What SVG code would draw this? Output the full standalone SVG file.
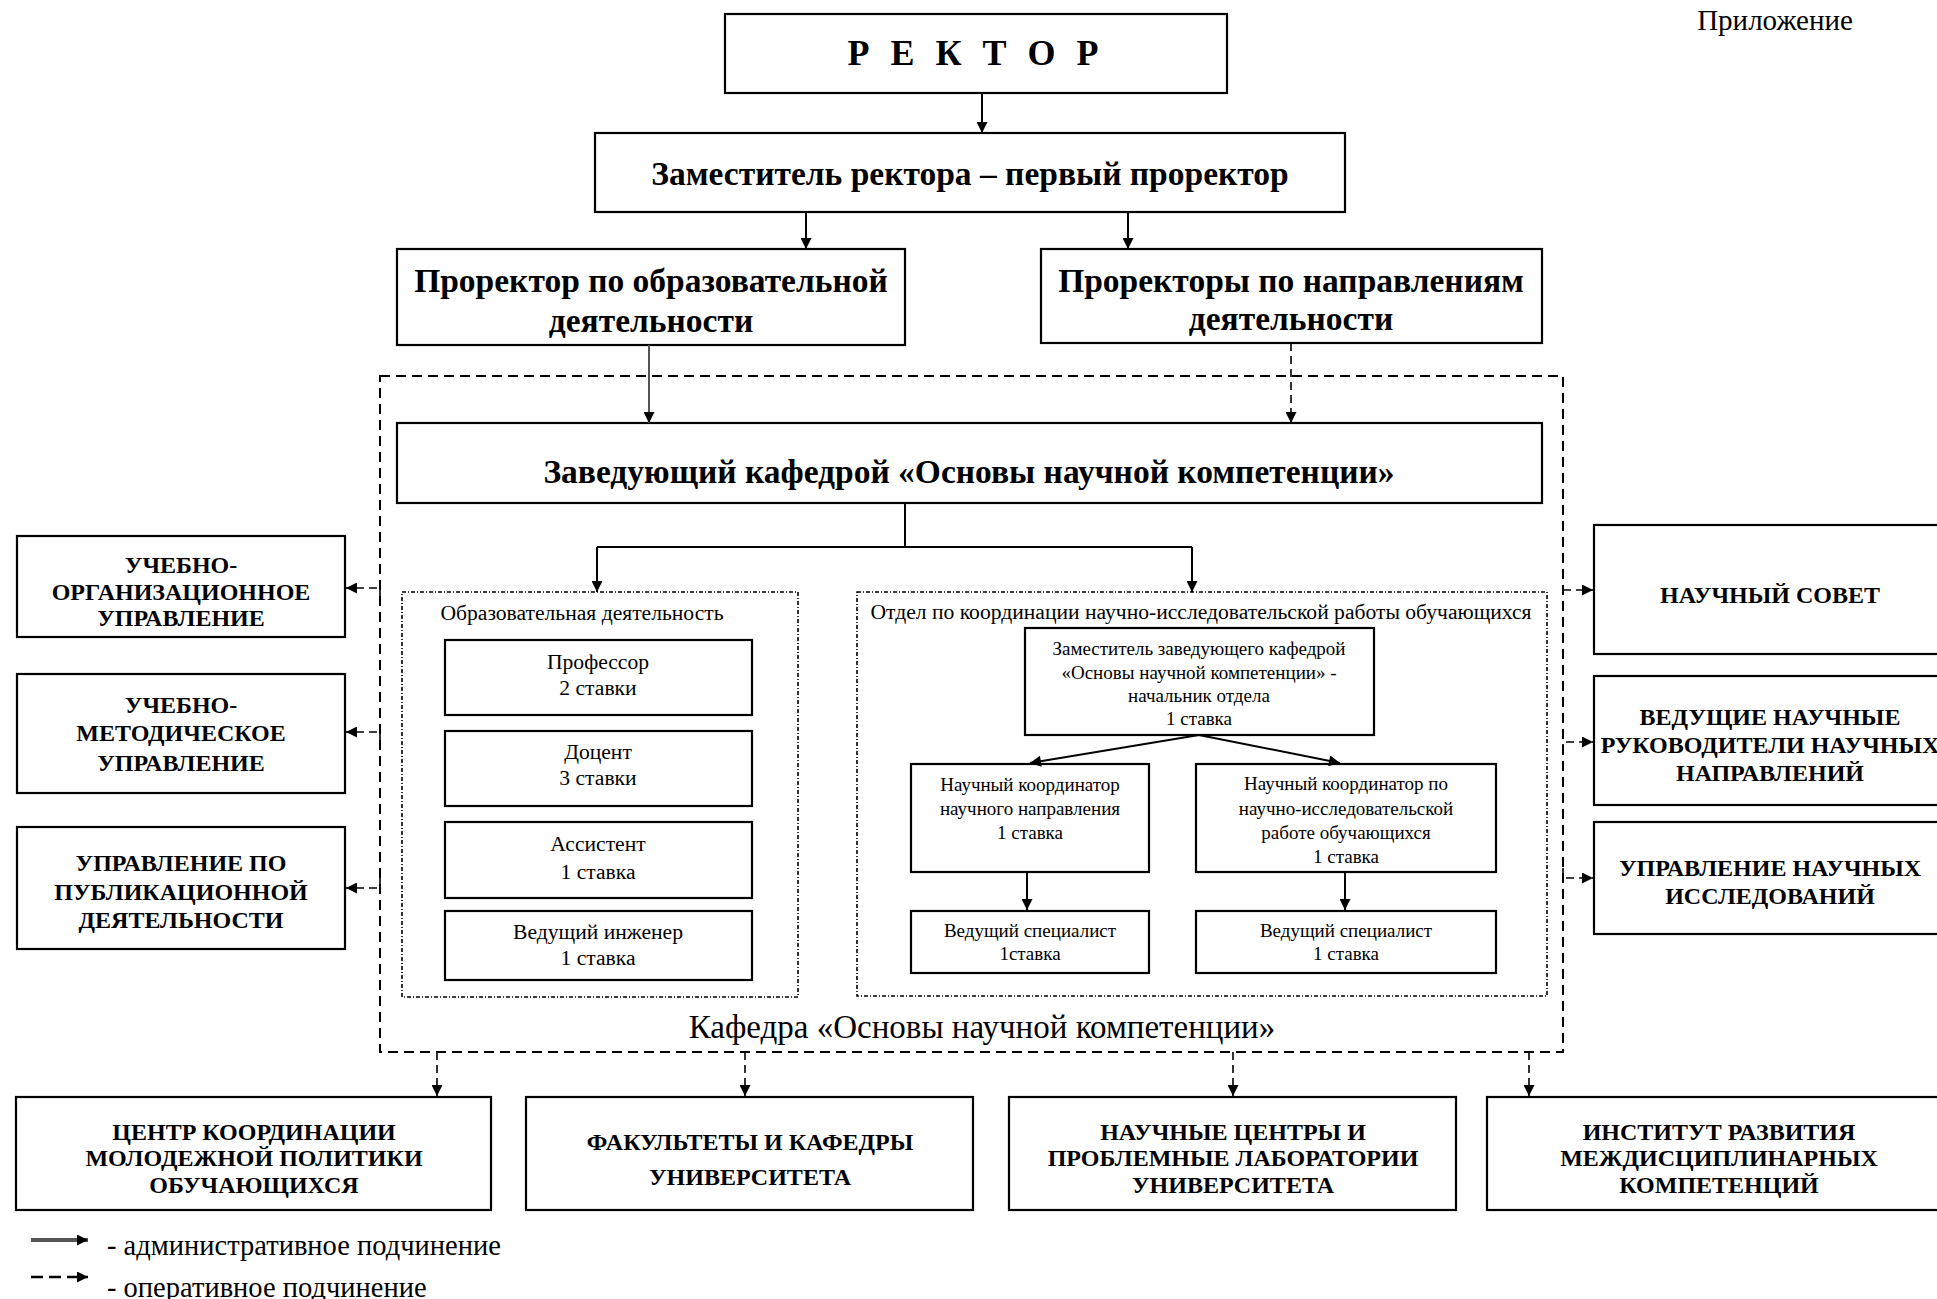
<svg xmlns="http://www.w3.org/2000/svg" width="1937" height="1299" viewBox="0 0 1937 1299">
<style>
.box{fill:#fff;stroke:#000;stroke-width:2.2}
.outer{fill:none;stroke:#000;stroke-width:2;stroke-dasharray:10,6}
.dot{fill:none;stroke:#000;stroke-width:1.6;stroke-dasharray:4,2,1,2}
.t{font-family:"Liberation Serif","Times New Roman",serif;text-anchor:middle;dominant-baseline:central;fill:#000}
.b{font-weight:bold}
.h1{font-size:33.5px}
.cap{font-size:24px}
.s20{font-size:21.6px}
.s17{font-size:19px}
.c{stroke:#000;stroke-width:2;fill:none}
.d{stroke-dasharray:8,5;stroke-width:1.6}
</style>
<defs>
<marker id="ah" viewBox="0 0 10 10" refX="10" refY="5" markerWidth="12" markerHeight="11" markerUnits="userSpaceOnUse" orient="auto">
<path d="M0,0 L10,5 L0,10 z" fill="#000"/>
</marker>
</defs>
<rect width="1937" height="1299" fill="#fff"/>
<text class="t" x="1775" y="20" style="font-size:29px">Приложение</text>

<g id="kafedra-frame">
<rect class="outer" x="380" y="376" width="1183" height="676"/>
<text class="t" x="982" y="1027" style="font-size:33px">Кафедра «Основы научной компетенции»</text>
</g>

<g id="rector"><rect class="box" x="725" y="14" width="502" height="79"/><text class="t b" x="976" y="53" style="font-size:36px;letter-spacing:6px">Р Е К Т О Р</text></g>
<g id="first-prorector"><rect class="box" x="595" y="133" width="750" height="79"/><text class="t b h1" x="970" y="173">Заместитель ректора – первый проректор</text></g>
<g id="prorector-edu"><rect class="box" x="397" y="249" width="508" height="96"/><text class="t b h1" x="651" y="280">Проректор по образовательной</text><text class="t b h1" x="651" y="320">деятельности</text></g>
<g id="prorectors-dir"><rect class="box" x="1041" y="249" width="501" height="94"/><text class="t b h1" x="1291" y="280">Проректоры по направлениям</text><text class="t b h1" x="1291" y="318">деятельности</text></g>
<g id="head"><rect class="box" x="397" y="423" width="1145" height="80"/><text class="t b h1" x="969" y="471">Заведующий кафедрой «Основы научной компетенции»</text></g>

<g id="edu-group"><rect class="dot" x="402" y="592" width="396" height="405"/><text class="t s20" x="582" y="613">Образовательная деятельность</text></g>
<g id="professor"><rect class="box" x="445" y="640" width="307" height="75"/><text class="t s20" x="598" y="662">Профессор</text><text class="t s20" x="598" y="688">2 ставки</text></g>
<g id="docent"><rect class="box" x="445" y="731" width="307" height="75"/><text class="t s20" x="598" y="752">Доцент</text><text class="t s20" x="598" y="778">3 ставки</text></g>
<g id="assistant"><rect class="box" x="445" y="822" width="307" height="76"/><text class="t s20" x="598" y="844">Ассистент</text><text class="t s20" x="598" y="872">1 ставка</text></g>
<g id="engineer"><rect class="box" x="445" y="911" width="307" height="69"/><text class="t s20" x="598" y="932">Ведущий инженер</text><text class="t s20" x="598" y="958">1 ставка</text></g>

<g id="research-group"><rect class="dot" x="857" y="592" width="690" height="404"/><text class="t s20" x="1201" y="612">Отдел по координации научно-исследовательской работы обучающихся</text></g>
<g id="deputy-head"><rect class="box" x="1025" y="628" width="349" height="107"/><text class="t s17" x="1199" y="648">Заместитель заведующего кафедрой</text><text class="t s17" x="1199" y="672">«Основы научной компетенции» -</text><text class="t s17" x="1199" y="695">начальник отдела</text><text class="t s17" x="1199" y="718">1 ставка</text></g>
<g id="coord-direction"><rect class="box" x="911" y="764" width="238" height="108"/><text class="t s17" x="1030" y="784">Научный координатор</text><text class="t s17" x="1030" y="808">научного направления</text><text class="t s17" x="1030" y="832">1 ставка</text></g>
<g id="coord-students"><rect class="box" x="1196" y="764" width="300" height="108"/><text class="t s17" x="1346" y="783">Научный координатор по</text><text class="t s17" x="1346" y="808">научно-исследовательской</text><text class="t s17" x="1346" y="832">работе обучающихся</text><text class="t s17" x="1346" y="856">1 ставка</text></g>
<g id="spec-left"><rect class="box" x="911" y="911" width="238" height="62"/><text class="t s17" x="1030" y="930">Ведущий специалист</text><text class="t s17" x="1030" y="953">1ставка</text></g>
<g id="spec-right"><rect class="box" x="1196" y="911" width="300" height="62"/><text class="t s17" x="1346" y="930">Ведущий специалист</text><text class="t s17" x="1346" y="953">1 ставка</text></g>

<g id="uou"><rect class="box" x="17" y="536" width="328" height="101"/><text class="t b cap" x="181" y="565">УЧЕБНО-</text><text class="t b cap" x="181" y="592">ОРГАНИЗАЦИОННОЕ</text><text class="t b cap" x="181" y="618">УПРАВЛЕНИЕ</text></g>
<g id="umu"><rect class="box" x="17" y="674" width="328" height="119"/><text class="t b cap" x="181" y="705">УЧЕБНО-</text><text class="t b cap" x="181" y="733">МЕТОДИЧЕСКОЕ</text><text class="t b cap" x="181" y="763">УПРАВЛЕНИЕ</text></g>
<g id="upd"><rect class="box" x="17" y="827" width="328" height="122"/><text class="t b cap" x="181" y="863">УПРАВЛЕНИЕ ПО</text><text class="t b cap" x="181" y="892">ПУБЛИКАЦИОННОЙ</text><text class="t b cap" x="181" y="920">ДЕЯТЕЛЬНОСТИ</text></g>

<g id="council"><rect class="box" x="1594" y="525" width="352" height="129"/><text class="t b cap" x="1770" y="595">НАУЧНЫЙ СОВЕТ</text></g>
<g id="leaders"><rect class="box" x="1594" y="676" width="352" height="129"/><text class="t b cap" x="1770" y="717">ВЕДУЩИЕ НАУЧНЫЕ</text><text class="t b cap" x="1770" y="745">РУКОВОДИТЕЛИ НАУЧНЫХ</text><text class="t b cap" x="1770" y="773">НАПРАВЛЕНИЙ</text></g>
<g id="research-mgmt"><rect class="box" x="1594" y="822" width="352" height="112"/><text class="t b cap" x="1770" y="868">УПРАВЛЕНИЕ НАУЧНЫХ</text><text class="t b cap" x="1770" y="896">ИССЛЕДОВАНИЙ</text></g>

<g id="youth-center"><rect class="box" x="16" y="1097" width="475" height="113"/><text class="t b cap" x="254" y="1132">ЦЕНТР КООРДИНАЦИИ</text><text class="t b cap" x="254" y="1158">МОЛОДЕЖНОЙ ПОЛИТИКИ</text><text class="t b cap" x="254" y="1185">ОБУЧАЮЩИХСЯ</text></g>
<g id="faculties"><rect class="box" x="526" y="1097" width="447" height="113"/><text class="t b cap" x="750" y="1142">ФАКУЛЬТЕТЫ И КАФЕДРЫ</text><text class="t b cap" x="750" y="1177">УНИВЕРСИТЕТА</text></g>
<g id="labs"><rect class="box" x="1009" y="1097" width="447" height="113"/><text class="t b cap" x="1233" y="1132">НАУЧНЫЕ ЦЕНТРЫ И</text><text class="t b cap" x="1233" y="1158">ПРОБЛЕМНЫЕ ЛАБОРАТОРИИ</text><text class="t b cap" x="1233" y="1185">УНИВЕРСИТЕТА</text></g>
<g id="institute"><rect class="box" x="1487" y="1097" width="464" height="113"/><text class="t b cap" x="1719" y="1132">ИНСТИТУТ РАЗВИТИЯ</text><text class="t b cap" x="1719" y="1158">МЕЖДИСЦИПЛИНАРНЫХ</text><text class="t b cap" x="1719" y="1185">КОМПЕТЕНЦИЙ</text></g>

<g id="connectors">
<path class="c" d="M982,93 V133" marker-end="url(#ah)"/>
<path class="c" d="M806,212 V249" marker-end="url(#ah)"/>
<path class="c" d="M1128,212 V249" marker-end="url(#ah)"/>
<path class="c" d="M649,345 V423" style="stroke:#555" marker-end="url(#ah)"/>
<path class="c d" d="M1291,343 V423" marker-end="url(#ah)"/>
<path class="c" d="M905,503 V547 M597,547 H1192"/>
<path class="c" d="M597,547 V592" marker-end="url(#ah)"/>
<path class="c" d="M1192,547 V592" marker-end="url(#ah)"/>
<path class="c" d="M1199,735 L1030,763" marker-end="url(#ah)"/>
<path class="c" d="M1199,735 L1340,763" marker-end="url(#ah)"/>
<path class="c" d="M1027,872 V910" marker-end="url(#ah)"/>
<path class="c" d="M1345,872 V910" marker-end="url(#ah)"/>
<path class="c d" d="M380,598 V588 H346" marker-end="url(#ah)"/>
<path class="c d" d="M380,742 V732 H346" marker-end="url(#ah)"/>
<path class="c d" d="M380,878 V888 H346" marker-end="url(#ah)"/>
<path class="c d" d="M1563,590 H1593" marker-end="url(#ah)"/>
<path class="c d" d="M1563,752 V742 H1593" marker-end="url(#ah)"/>
<path class="c d" d="M1563,868 V878 H1593" marker-end="url(#ah)"/>
<path class="c d" d="M437,1052 V1096" marker-end="url(#ah)"/>
<path class="c d" d="M745,1052 V1096" marker-end="url(#ah)"/>
<path class="c d" d="M1233,1052 V1096" marker-end="url(#ah)"/>
<path class="c d" d="M1529,1052 V1096" marker-end="url(#ah)"/>
</g>

<g id="legend">
<path d="M31,1240 H88" style="stroke:#555;stroke-width:4;fill:none" marker-end="url(#ah)"/>
<text class="t" x="107" y="1245" style="font-size:28.5px;text-anchor:start">- административное подчинение</text>
<path d="M31,1277 H88" style="stroke:#000;stroke-width:2.5;stroke-dasharray:12,6;fill:none" marker-end="url(#ah)"/>
<text class="t" x="107" y="1287" style="font-size:28.5px;text-anchor:start">- оперативное подчинение</text>
</g>
</svg>
